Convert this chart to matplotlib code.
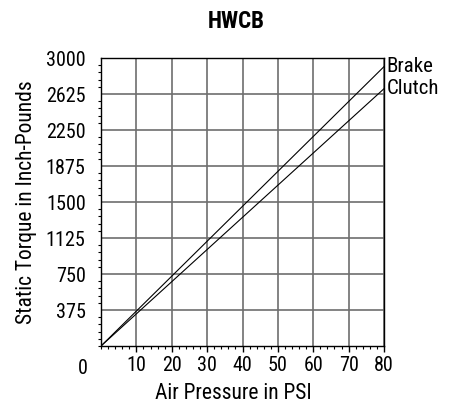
import numpy as np
import matplotlib.pyplot as plt
from matplotlib import font_manager
from matplotlib.ticker import MultipleLocator

installed = {f.name for f in font_manager.fontManager.ttflist}
wanted = ['Roboto Condensed', 'Liberation Sans Narrow', 'Archivo Narrow',
          'PT Sans Narrow', 'Fira Sans Condensed', 'Sofia Sans Condensed']
fam = [f for f in wanted if f in installed][:1] + ['DejaVu Sans']
plt.rcParams['font.family'] = fam

# data
pressure = [0, 80]
brake = [0, 2910]
clutch = [0, 2680]
series_names = ['Brake', 'Clutch']
x_ticks = [10, 20, 30, 40, 50, 60, 70, 80]
y_ticks = [375, 750, 1125, 1500, 1875, 2250, 2625, 3000]

fig = plt.figure(figsize=(4.54, 4.04), dpi=100)
ax = fig.add_axes([101/454, 58/404, 283/454, 288/404])

ax.set_xlim(0, 80)
ax.set_ylim(0, 3000)
ax.set_xticks(x_ticks)
ax.set_yticks(y_ticks)
ax.xaxis.set_minor_locator(MultipleLocator(2))
ax.yaxis.set_minor_locator(MultipleLocator(75))
ax.grid(True, which='major', color='#6e6e6e', linewidth=1.2)
ax.set_axisbelow(True)
for s in ax.spines.values():
    s.set_color('black')
    s.set_linewidth(1.0)

ax.tick_params(which='major', length=4, width=1, color='black', labelsize=14.5, pad=3)
ax.tick_params(which='minor', length=2.5, width=0.8, color='black')
ax.tick_params(axis='y', which='major', length=0, pad=11)

for vals, name in zip([brake, clutch], series_names):
    ax.plot(pressure, vals, color='black', linewidth=0.8)
    ax.annotate(name, xy=(pressure[-1], vals[-1]), xytext=(2, 0),
                textcoords='offset points', va='center', ha='left',
                fontsize=15, annotation_clip=False)

ax.annotate('0', xy=(0, 0), xytext=(-13, -16), textcoords='offset points',
            ha='center', va='center', fontsize=14.5, annotation_clip=False)

ax.set_ylabel('Static Torque in Inch-Pounds', fontsize=15.5)
ax.yaxis.set_label_coords(-0.226, 0.5)
ax.set_xlabel('Air Pressure in PSI', fontsize=15.5)
ax.xaxis.set_label_coords(0.466, -0.13)

fig.text(236/454, 1 - 21/404, 'HWCB', ha='center', va='center',
         fontsize=16.5, fontweight='bold')

fig.savefig('out.png', dpi=100)
